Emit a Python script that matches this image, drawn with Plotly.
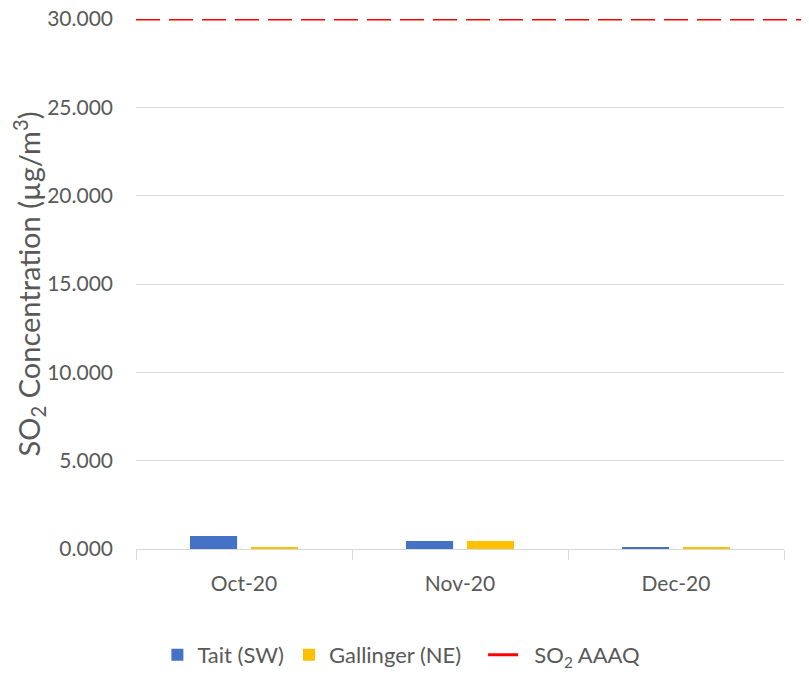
import plotly.graph_objects as go

months = ["Oct-20", "Nov-20", "Dec-20"]
tait_sw = [0.74, 0.45, 0.10]
gallinger_ne = [0.12, 0.45, 0.10]
aaaq_value = [30.0]
y_ticks = [0, 5, 10, 15, 20, 25, 30]
y_tick_labels = ["0.000", "5.000", "10.000", "15.000", "20.000", "25.000", "30.000"]

FONT = "Lato, Open Sans, sans-serif"
GREY = "#595959"
NB = "\u00a0"

fig = go.Figure()
fig.add_trace(go.Bar(name="Tait (SW)", x=months, y=tait_sw, marker_color="#4472C4",
                     marker_line_width=0))
fig.add_trace(go.Bar(name="Gallinger (NE)" + NB * 3, x=months, y=gallinger_ne,
                     marker_color="#FFC000", marker_line_width=0))
fig.add_trace(go.Scatter(name=NB * 2 + "SO<sub>2</sub> AAAQ", x=[None], y=[None], mode="lines",
                         line=dict(color="#FF0000", width=3)))

fig.add_shape(type="line", xref="paper", yref="y", x0=0.0, x1=1.035,
              y0=aaaq_value[0], y1=aaaq_value[0],
              line=dict(color="#FF0000", width=3, dash="24px,9px"), layer="above")

fig.update_layout(
    width=793, height=661,
    margin=dict(l=128, r=17, t=11, b=120, autoexpand=False),
    plot_bgcolor="white", paper_bgcolor="white",
    barmode="group", bargap=0.436, bargroupgap=0.226,
    font=dict(family=FONT, color=GREY, size=20),
    showlegend=True,
    legend=dict(orientation="h", x=0.033, xanchor="left", y=-0.200, yanchor="middle",
                font=dict(size=22, color=GREY), traceorder="normal"),
)
fig.update_xaxes(
    type="category", showgrid=False, showline=True, linecolor="#d9d9d9", linewidth=1,
    ticks="outside", tickson="boundaries", ticklen=10, tickcolor="#d9d9d9",
    tickfont=dict(size=21, color=GREY), automargin=False, ticklabelstandoff=16,
)
fig.update_yaxes(
    range=[0, 30], tickvals=y_ticks, ticktext=y_tick_labels,
    showgrid=True, gridcolor="#d9d9d9", gridwidth=1, zeroline=False,
    showline=False, ticks="", ticklabelstandoff=22, automargin=False,
    ticklabeloverflow="allow",
    tickfont=dict(size=21, color=GREY),
    title=dict(text="SO<sub>2</sub> Concentration (µg/m<sup>3</sup>)", font=dict(size=29, color=GREY),
               standoff=11),
)

fig.write_html("out.html")
